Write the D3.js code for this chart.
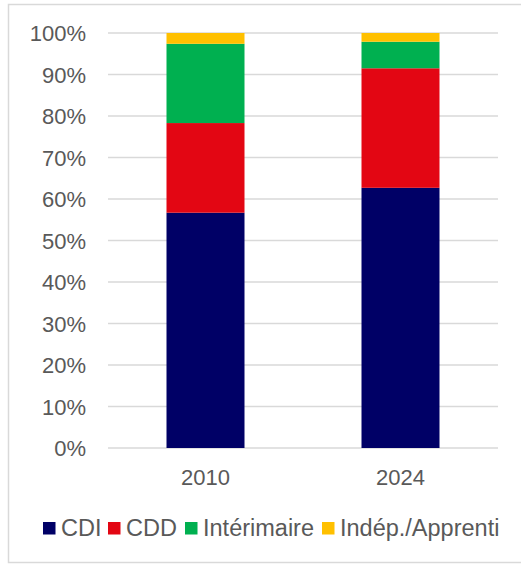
<!DOCTYPE html>
<html>
<head>
<meta charset="utf-8">
<script src="https://cdn.jsdelivr.net/npm/d3@7"></script>
<style>
    body { margin: 0; background: #fff; }
    svg { display: block; font-family: "Liberation Sans", Arial, sans-serif; }
    .tick-label { fill: #595959; font-size: 22px; }
    .legend-label { fill: #595959; font-size: 23.5px; }
</style>
</head>
<body>
<svg id="chart"></svg>
<script>
const years = ["2010", "2024"];
const seriesNames = ["CDI", "CDD", "Intérimaire", "Indép./Apprenti"];
const cdi = [56.7, 62.7];
const cdd = [21.6, 28.8];
const interim = [19.1, 6.4];
const indep = [2.6, 2.1];
const yTicks = [0, 10, 20, 30, 40, 50, 60, 70, 80, 90, 100];
const colors = ["#000066", "#e30613", "#00b050", "#ffc000"];

const W = 521, H = 565;
const margin = { top: 33, right: 23, bottom: 117, left: 108 };
const width = W - margin.left - margin.right;
const height = H - margin.top - margin.bottom;

const svg = d3.select("#chart").attr("width", W).attr("height", H);

// Outer frame
svg.append("rect")
    .attr("x", 8.5).attr("y", 4.5)
    .attr("width", W + 10).attr("height", 558)
    .attr("fill", "none")
    .attr("stroke", "#d9d9d9")
    .attr("stroke-width", 1.5);

const g = svg.append("g").attr("transform", `translate(${margin.left},${margin.top})`);

const x = d3.scaleBand().domain(years).range([0, width]);
const y = d3.scaleLinear().domain([0, 100]).range([height, 0]);

// Gridlines
g.selectAll(".grid")
    .data(yTicks)
    .join("line")
    .attr("x1", 0).attr("x2", width)
    .attr("y1", d => y(d)).attr("y2", d => y(d))
    .attr("stroke", "#d9d9d9")
    .attr("stroke-width", 1.5);

// Y labels
g.selectAll(".ylab")
    .data(yTicks)
    .join("text")
    .attr("class", "tick-label")
    .attr("x", -22)
    .attr("y", d => y(d) + 8)
    .attr("text-anchor", "end")
    .text(d => d + "%");

// Stack
const table = years.map((yr, i) => ({
    year: yr, CDI: cdi[i], CDD: cdd[i], "Intérimaire": interim[i], "Indép./Apprenti": indep[i]
}));
const stacked = d3.stack().keys(seriesNames)(table);

const barW = x.bandwidth() * 0.4;

g.selectAll(".layer")
    .data(stacked)
    .join("g")
    .attr("fill", (d, i) => colors[i])
    .selectAll("rect")
    .data(d => d)
    .join("rect")
    .attr("x", d => x(d.data.year) + (x.bandwidth() - barW) / 2)
    .attr("y", d => y(d[1]))
    .attr("width", barW)
    .attr("height", d => y(d[0]) - y(d[1]));

// X labels
g.selectAll(".xlab")
    .data(years)
    .join("text")
    .attr("class", "tick-label")
    .attr("x", d => x(d) + x.bandwidth() / 2)
    .attr("y", height + 37)
    .attr("text-anchor", "middle")
    .text(d => d);

// Legend
const legendX = [43, 108, 185, 322];
const legend = svg.selectAll(".legend")
    .data(seriesNames)
    .join("g")
    .attr("transform", (d, i) => `translate(${legendX[i]},522)`);

legend.append("rect")
    .attr("width", 12.5).attr("height", 12.5)
    .attr("fill", (d, i) => colors[i]);

legend.append("text")
    .attr("class", "legend-label")
    .attr("x", 18)
    .attr("y", 13.5)
    .text(d => d);
</script>
</body>
</html>
